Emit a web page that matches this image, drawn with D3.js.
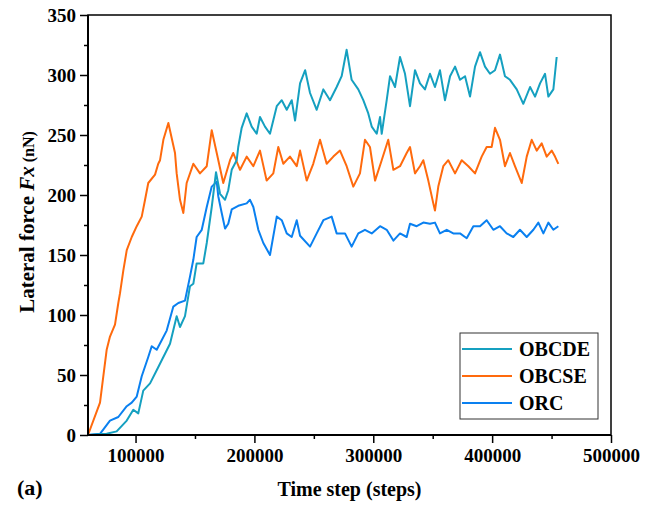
<!DOCTYPE html>
<html>
<head>
<meta charset="utf-8">
<script src="https://cdn.jsdelivr.net/npm/d3@7"></script>
<style>
    body { margin: 0; background: #fff; }
    text { font-family: "Liberation Serif", "Times New Roman", serif; font-weight: bold; }
</style>
</head>
<body>
<div id="chart"></div>
<script>
// series: [time step, lateral force Fx (nN)]
const obcde = [
    [60000, 0], [75700, 1], [84100, 3], [92600, 12], [98100, 21], [102300, 18], [106500, 37],
    [112200, 43], [117800, 54], [123400, 65], [129000, 76], [134600, 99], [137400, 90],
    [141600, 99], [145800, 124], [148600, 126], [151400, 143], [157000, 143], [159900, 160],
    [164100, 190], [167700, 219], [171100, 201], [175300, 196], [178000, 204], [180900, 221],
    [185100, 229], [186400, 240], [189300, 256], [193500, 268], [197700, 257], [201900, 251],
    [204700, 265], [208900, 257], [213100, 251], [218800, 274], [223000, 279], [227200, 271],
    [231400, 279], [234200, 262], [238400, 293], [242700, 304], [246800, 285], [252400, 271],
    [258000, 288], [263600, 279], [269200, 290], [273400, 299], [277600, 321], [281800, 296],
    [287400, 288], [291600, 279], [295800, 268], [298700, 257], [302900, 251], [305700, 265],
    [307100, 251], [311300, 279], [314100, 299], [318300, 290], [322500, 315], [326700, 301],
    [330900, 274], [335100, 304], [339300, 293], [343500, 288], [347700, 301], [351900, 290],
    [356100, 304], [360300, 279], [364600, 299], [368800, 307], [373000, 296], [377200, 299],
    [381400, 282], [385600, 307], [389800, 319], [394000, 307], [398200, 301], [402400, 304],
    [406600, 317], [410800, 299], [415000, 296], [420700, 288], [426200, 276], [431900, 290],
    [436100, 282], [440300, 293], [444500, 301], [447300, 282], [451500, 288], [454300, 315]
];
const obcse = [
    [60000, 0], [70100, 27], [72900, 49], [75700, 71], [78500, 82], [82700, 92], [85500, 110],
    [86900, 118], [89700, 137], [92600, 154], [96800, 165], [101000, 174], [105200, 182],
    [108000, 196], [110700, 210], [116400, 217], [119100, 226], [120600, 229], [123400, 246],
    [127600, 260], [133200, 235], [134600, 218], [137400, 196], [140200, 185], [143000, 210],
    [148600, 226], [154200, 218], [159900, 224], [164100, 254], [168300, 235], [173800, 210],
    [179500, 229], [182200, 235], [187900, 221], [193500, 232], [199100, 224], [204700, 237],
    [210300, 212], [215900, 218], [220100, 240], [224300, 226], [229900, 232], [235600, 224],
    [238400, 237], [244000, 212], [249500, 226], [255200, 246], [260800, 226], [266400, 232],
    [272000, 237], [277600, 224], [283200, 207], [288800, 218], [293000, 246], [297200, 240],
    [301500, 212], [307100, 229], [312600, 246], [316900, 221], [322500, 224], [328100, 235],
    [330900, 240], [335100, 218], [339300, 224], [342100, 229], [346300, 212], [350500, 193],
    [351900, 187], [354700, 207], [358900, 224], [363100, 229], [368800, 218], [374400, 229],
    [380000, 224], [385600, 218], [391200, 232], [395400, 240], [399600, 240], [402400, 256],
    [406600, 246], [410800, 224], [415000, 235], [419200, 224], [424900, 210], [429100, 232],
    [433300, 246], [437500, 237], [441700, 243], [445900, 232], [450100, 237], [452900, 232],
    [455700, 226]
];
const orc = [
    [60000, 0], [70100, 1], [78500, 12], [85500, 15], [92600, 24], [96800, 27], [101000, 32],
    [105200, 49], [110700, 65], [113600, 74], [117800, 71], [122000, 79], [126200, 87],
    [131800, 107], [136000, 110], [141600, 112], [145800, 132], [148600, 146], [151400, 165],
    [155700, 171], [159900, 190], [164100, 207], [168300, 211], [169600, 199], [172500, 185],
    [175300, 172], [178000, 176], [180900, 188], [186400, 191], [193500, 193], [196300, 196],
    [199100, 190], [203300, 171], [207500, 160], [213100, 150], [218800, 182], [223000, 179],
    [227200, 168], [231400, 165], [235600, 179], [238400, 166], [246800, 157], [252400, 168],
    [258000, 179], [265000, 182], [269200, 168], [276200, 168], [281800, 157], [287400, 168],
    [293000, 171], [298700, 168], [305700, 174], [311300, 171], [316900, 162], [322500, 168],
    [328100, 165], [330900, 176], [336500, 174], [342100, 177], [347700, 176], [351900, 177],
    [356100, 168], [361800, 171], [367300, 168], [373000, 168], [378600, 164], [384200, 174],
    [389800, 174], [395400, 179], [401000, 171], [406600, 174], [412200, 168], [417800, 165],
    [423400, 171], [429100, 165], [434700, 171], [438900, 177], [443100, 168], [447300, 177],
    [451500, 171], [455700, 174]
];

const seriesNames = ['OBCDE', 'OBCSE', 'ORC'];
const seriesColors = ['#15a0c0', '#ff6a0d', '#0a80f0'];
const xTicks = [100000, 200000, 300000, 400000, 500000];
const xMinor = [150000, 250000, 350000, 450000];
const yTicks = [0, 50, 100, 150, 200, 250, 300, 350];
const yMinor = [25, 75, 125, 175, 225, 275, 325];

const width = 664, height = 505;
const margin = { left: 88, right: 53, top: 15, bottom: 70 };

const svg = d3.select('#chart').append('svg')
    .attr('width', width)
    .attr('height', height);

const x = d3.scaleLinear().domain([60000, 500000]).range([margin.left, width - margin.right]);
const y = d3.scaleLinear().domain([0, 350]).range([height - margin.bottom, margin.top]);

// frame
svg.append('rect')
    .attr('x', x(60000)).attr('y', y(350))
    .attr('width', x(500000) - x(60000)).attr('height', y(0) - y(350))
    .attr('fill', 'none').attr('stroke', '#000').attr('stroke-width', 1.5);

// lines
const line = d3.line().x(d => x(d[0])).y(d => y(d[1]));
const allSeries = [obcde, obcse, orc];
[2, 1, 0].forEach(i => {
    svg.append('path')
        .datum(allSeries[i])
        .attr('d', line)
        .attr('fill', 'none')
        .attr('stroke', seriesColors[i])
        .attr('stroke-width', 2)
        .attr('stroke-linejoin', 'round');
});

// axes
svg.append('g')
    .attr('class', 'x-axis')
    .attr('transform', `translate(0,${y(0)})`)
    .call(d3.axisBottom(x).tickValues(xTicks).tickSize(8).tickPadding(6).tickFormat(d3.format('d')));
svg.append('g')
    .attr('class', 'x-axis')
    .attr('transform', `translate(0,${y(0)})`)
    .call(d3.axisBottom(x).tickValues(xMinor).tickSize(4).tickFormat(''));
svg.append('g')
    .attr('class', 'y-axis')
    .attr('transform', `translate(${x(60000)},0)`)
    .call(d3.axisLeft(y).tickValues(yTicks).tickSize(8).tickPadding(4));
svg.append('g')
    .attr('class', 'y-axis')
    .attr('transform', `translate(${x(60000)},0)`)
    .call(d3.axisLeft(y).tickValues(yMinor).tickSize(4).tickFormat(''));

svg.selectAll('.x-axis .domain').attr('stroke-width', 2).attr('d', `M${x(60000)},0H${x(500000)}`);
svg.selectAll('.y-axis .domain').attr('stroke-width', 2).attr('d', `M0,${y(0)}V${y(350)}`);
svg.selectAll('.tick line').attr('stroke-width', 1.5);
svg.selectAll('.tick text')
    .attr('font-family', '"Liberation Serif", serif')
    .attr('font-weight', 'bold')
    .attr('font-size', 19)
    .attr('fill', '#000');

// axis titles
svg.append('text')
    .attr('x', (x(60000) + x(500000)) / 2)
    .attr('y', 496)
    .attr('text-anchor', 'middle')
    .attr('font-size', 20)
    .text('Time step (steps)');

const yTitle = svg.append('text')
    .attr('transform', `translate(34,${(y(0) + y(350)) / 2 - 3}) rotate(-90)`)
    .attr('text-anchor', 'middle')
    .attr('font-size', 21);
yTitle.append('tspan').text('Lateral force ');
yTitle.append('tspan').attr('font-style', 'italic').text('Fx');
yTitle.append('tspan').attr('font-size', 16).text(' (nN)');

svg.append('text')
    .attr('x', 17).attr('y', 495)
    .attr('font-size', 22)
    .text('(a)');

// legend
const legend = svg.append('g').attr('transform', 'translate(460,333)');
legend.append('rect')
    .attr('width', 138).attr('height', 86)
    .attr('fill', '#fff').attr('stroke', '#333').attr('stroke-width', 1);
seriesNames.forEach((name, i) => {
    const ly = 16 + i * 27;
    legend.append('line')
        .attr('x1', 2).attr('x2', 52)
        .attr('y1', ly).attr('y2', ly)
        .attr('stroke', seriesColors[i]).attr('stroke-width', 2);
    legend.append('text')
        .attr('x', 59).attr('y', ly + 7)
        .attr('font-size', 20)
        .text(name);
});
</script>
</body>
</html>
